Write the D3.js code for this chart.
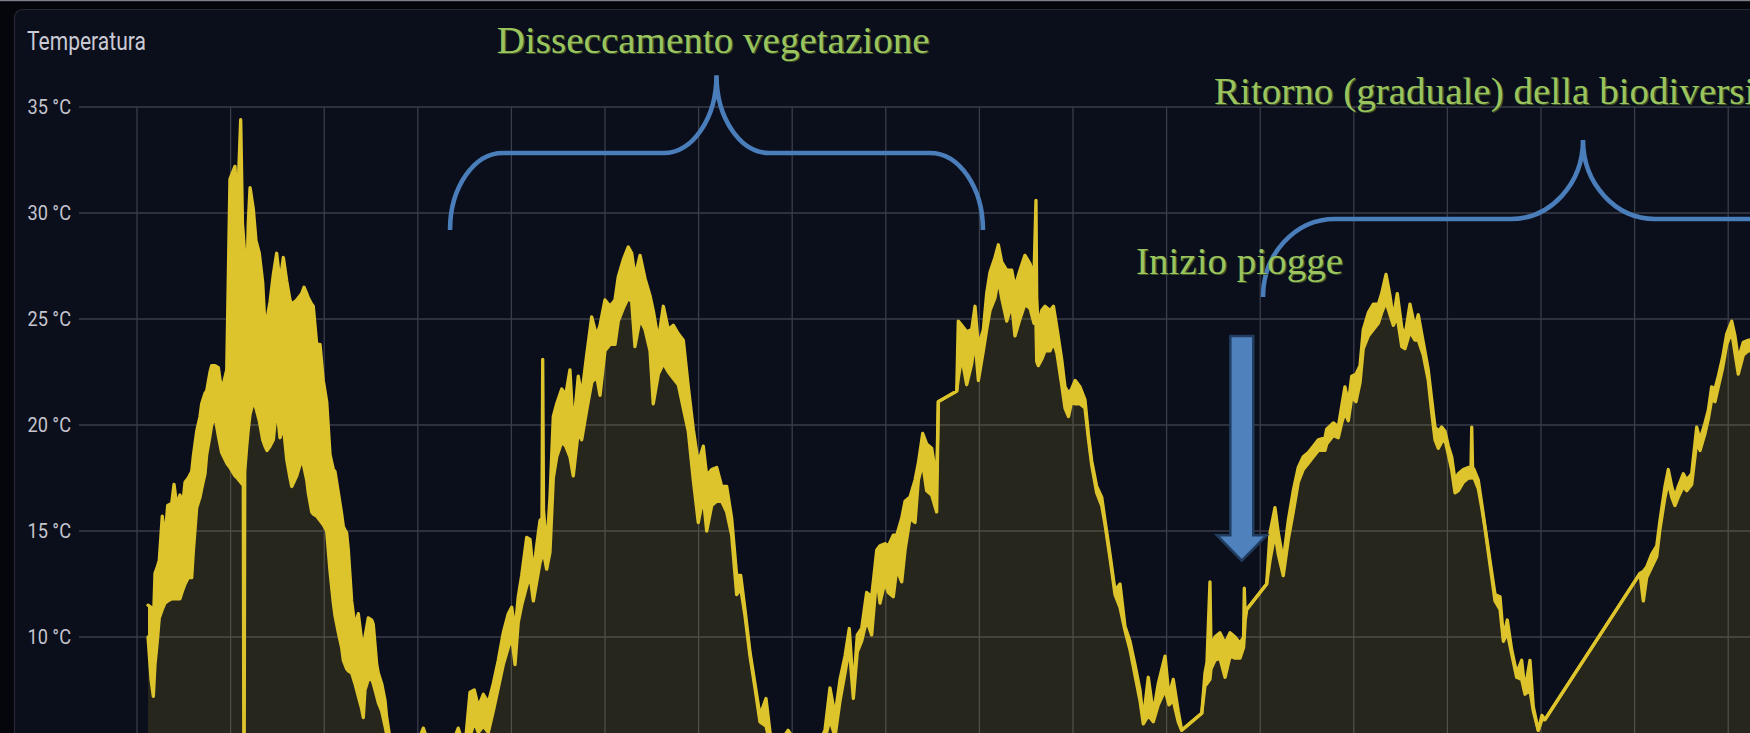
<!DOCTYPE html>
<html><head><meta charset="utf-8">
<script src="https://cdn.jsdelivr.net/npm/d3@7"></script>
<style>html,body{margin:0;padding:0;background:#04060c;overflow:hidden}</style>
</head><body>
<svg id="chart" width="1750" height="733"></svg>
<script>
// ---- data: [day, daily max °C, daily min °C] ----
const season1 = [
[100.6,11.5,10.0],[103.5,11.4,8.0],[105.7,10.5,7.2],[107.3,13.0,8.7],[109.5,13.3,9.8],[111.4,13.6,10.9],
[114.3,15.7,11.3],[116.9,14.6,11.6],[119.5,16.2,11.7],[123.4,16.3,11.8],[125.6,17.2,11.8],[128.2,16.2,11.8],
[131.3,16.7,11.8],[133.9,16.2,12.2],[136.2,17.3,12.5],[139.3,17.5,12.8],[142.6,17.8,12.8],[144.1,18.5,14.0],
[147.4,19.7,16.1],[150.6,20.4,16.6],[152.2,21.0,17.0],[155.4,21.5,17.7],[157.0,21.6,18.6],[160.2,22.5,19.5],
[161.8,22.8,20.0],[165.0,22.8,20.4],[168.2,22.7,19.5],[171.4,21.6,18.7],[176.3,22.6,18.2],[179.4,31.6,18.0],
[184.2,32.2,17.6],[186.4,30.1,17.5],[189.7,34.4,17.3],[191.4,29.5,17.2],[192.2,29.0,17.2],[192.9,28.5,0],
[193.6,28.0,17.8],[195.5,26.5,19.0],[197.0,29.5,19.8],[198.7,31.2,20.5],[201.8,30.2,21.1],[204.4,28.7,20.8],
[207.6,28.1,20.2],[210.9,26.7,19.3],[213.1,24.6,19.0],[215.0,25.0,18.8],[217.9,25.8,19.0],[221.1,27.1,19.3],
[224.3,28.1,20.9],[227.5,26.7,19.4],[230.7,27.9,20.0],[233.9,26.8,18.4],[237.1,25.9,17.5],[238.8,25.7,17.1],
[243.6,25.9,17.6],[248.4,26.2,18.4],[250.6,26.5,18.0],[253.2,26.2,17.4],[254.7,26.0,16.8],[258.0,25.7,15.9],
[259.5,25.6,15.8],[262.8,23.8,15.7],[266.0,23.8,15.5],[269.1,22.1,15.3],[272.4,21.1,15.0],[275.6,18.6,13.1],
[278.8,17.9,11.6],[280.4,17.8,11.0],[283.6,16.8,10.2],[286.8,15.8,9.5],[288.4,15.2,8.9],[291.6,14.9,8.5],
[293.2,14.1,8.4],[296.4,11.7,8.3],[299.6,10.5,7.8],[302.8,11.1,7.2],[306.1,9.8,6.6],[307.6,9.5,6.2],
[309.2,10.0,7.5],[312.4,10.9,8.0],[315.7,10.8,8.0],[317.2,10.6,7.8],[320.5,8.7,7.2],[322.0,8.3,6.9],
[325.3,7.8,6.5],[328.5,7.0,5.8],[330.1,6.2,5.4],[333.3,5.2,5.0],
[335.2,4.6,4.4],[342.9,4.5,4.3],[354.4,5.0,4.6],[362.1,5.3,4.9],[365.3,5.7,5.2],[368.8,5.2,4.8],
[376.5,4.8,4.5],[386.2,4.9,4.6],[395.8,5.3,4.9],[398.9,5.7,5.2],[402.5,5.1,4.8],[406.3,5.3,4.9]
];
const season2 = [
[410.2,7.4,5.3],[414.3,7.5,6.0],[418.2,6.7,5.5],[423.0,7.3,5.8],[427.8,6.9,5.5],[432.6,7.8,6.5],
[437.4,8.9,7.6],[442.2,10.2,8.7],[447.0,11.1,9.5],[450.3,11.4,10.0],[453.5,10.3,8.7],[456.6,11.9,10.7],
[459.9,12.9,11.5],[464.7,14.7,12.4],[467.9,14.6,12.9],[471.1,13.0,11.7],[474.3,14.3,12.6],[477.5,15.5,13.5],
[479.4,15.6,13.8],[480.1,23.1,14.0],[480.9,16.0,14.0],[483.9,14.1,13.2],[487.1,16.6,14.0],[490.3,20.4,17.5],
[493.6,21.0,18.5],[498.4,21.7,19.2],[502.2,21.4,19.0],[506.3,22.6,18.5],[509.5,19.8,17.6],[514.3,22.3,19.7],
[517.6,21.4,19.3],[522.4,23.3,20.7],[527.2,25.1,22.0],[532.0,24.2,22.3],[535.2,24.7,21.4],[540.0,25.9,23.5],
[544.8,25.6,23.8],[549.6,25.9,23.8],[552.8,27.0,24.9],[557.6,27.8,25.5],[562.4,28.4,26.0],[565.7,28.1,25.8],
[568.8,27.0,23.7],[573.7,28.0,25.0],[578.5,26.9,24.5],[583.3,26.1,23.5],[586.4,25.4,21.0],[591.3,24.0,22.4],
[596.1,25.6,22.9],[600.9,24.5,22.5],[605.7,24.7,22.2],[610.5,24.3,21.9],[615.3,24.0,20.8],[620.1,21.8,19.7],
[624.9,19.8,17.4],[629.7,18.2,15.4],[634.5,19.0,16.6],[637.8,17.6,15.0],[642.6,17.9,16.2],[647.4,18.0,16.4],
[652.2,17.1,16.4],[657.0,17.1,15.9],[661.8,15.6,14.8],[666.6,12.9,12.0],[670.5,12.9,12.3],[674.6,11.3,11.0],
[679.4,9.3,9.1],[684.2,7.8,7.6],[689.0,6.3,6.0],[694.8,7.1,5.8],[698.7,5.5,5.0],[701.5,5.2,4.8],
[708.3,5.0,4.7],[716.0,5.6,5.0],[722.7,5.1,4.8],[732.3,4.8,4.5],[741.9,5.0,4.7],[748.7,5.3,4.9]
];
const season3 = [
[751.5,5.6,5.2],[756.3,7.6,6.1],[761.2,6.3,5.3],[766.0,8.0,7.0],[770.8,9.1,8.3],[774.9,10.4,9.5],
[778.8,7.5,7.1],[782.6,10.1,9.3],[786.8,10.4,9.8],[791.6,12.1,10.8],[796.4,11.9,10.1],[801.3,14.1,12.9],
[804.4,14.3,11.6],[809.2,14.4,12.6],[812.4,14.3,12.1],[817.2,14.8,11.9],[820.5,14.8,13.2],[825.3,15.6,12.6],
[828.5,16.4,14.1],[833.3,16.6,15.6],[838.1,17.4,15.4],[841.3,18.2,17.4],[845.5,19.6,18.2],[849.3,19.1,16.9],
[854.1,18.9,16.7],[858.9,17.4,15.9],[860.5,21.1,21.1],[878.2,21.6,21.6],[879.7,24.9,22.2],[883.0,24.7,23.2],
[887.8,24.4,21.9],[892.6,24.5,22.9],[895.8,25.6,24.0],[899.0,23.7,22.1],[903.8,24.5,23.5],[907.0,26.2,24.5],
[910.2,27.2,25.4],[915.0,27.9,26.0],[918.2,28.5,26.9],[921.4,27.7,26.0],[926.3,27.3,24.9],[931.1,27.3,25.7],
[934.2,26.5,24.2],[939.0,27.3,25.0],[943.8,28.0,25.7],[948.7,27.6,25.5],[952.5,27.0,24.8],[954.4,30.6,24.8],
[955.1,26.0,23.0],[956.6,24.6,22.8],[959.9,25.4,23.1],[963.1,25.6,23.5],[967.9,25.4,23.5],[971.2,25.6,23.9],
[974.5,24.6,23.4],[979.1,23.1,21.9],[982.3,21.8,20.8],[985.7,21.5,20.4],[988.7,21.7,21.1],[992.1,22.1,21.0],
[996.7,21.8,21.0],[1001.5,21.2,20.8],[1004.7,19.6,19.4],[1008.0,18.3,18.1],[1012.8,17.1,16.8],[1017.6,16.6,16.2],
[1020.8,15.5,15.3],[1025.6,13.9,13.7],[1030.4,12.2,12.0],[1035.2,12.5,11.4],[1040.0,10.5,10.3],[1044.8,9.8,9.4],
[1049.6,8.7,8.2],[1054.4,7.5,7.0],[1057.6,6.1,5.9],[1062.4,8.1,6.3],[1067.2,6.4,6.0],[1072.0,7.8,6.8],
[1078.5,9.1,7.5],[1082.3,7.2,6.8],[1086.4,8.0,7.0],[1091.2,6.5,6.0],[1094.5,5.6,5.6]
];
const season4 = [
[1113.8,6.4,6.4],[1116.9,8.3,7.7],[1118.8,8.8,7.8],[1121.7,12.6,8.0],[1122.7,9.5,8.5],[1126.5,10.0,8.9],
[1131.3,10.2,9.0],[1136.2,9.7,8.1],[1141.0,10.2,9.1],[1145.8,10.0,9.0],[1150.6,9.7,9.0],[1154.0,10.0,9.5],
[1154.7,12.3,10.0],[1155.6,11.0,10.8],[1157.0,11.3,11.3],[1176.2,12.5,12.5],[1179.4,14.9,13.6],[1184.2,16.1,14.9],
[1187.4,14.9,13.9],[1192.2,13.6,12.9],[1197.0,15.5,14.6],[1201.8,16.9,15.9],[1206.6,18.0,17.3],[1211.4,18.5,17.9],
[1216.3,18.7,18.2],[1221.1,19.0,18.5],[1225.9,19.3,18.8],[1232.3,19.4,18.8],[1233.9,19.8,19.1],[1240.3,20.1,19.5],
[1245.1,19.9,19.4],[1248.4,20.9,20.1],[1251.5,21.8,20.6],[1254.7,21.0,20.2],[1258.0,22.3,21.3],[1262.1,22.4,21.1],
[1266.0,22.8,22.0],[1269.1,24.5,23.6],[1274.0,25.3,24.2],[1278.8,25.7,24.5],[1283.6,25.7,24.8],[1286.8,26.2,25.3],
[1291.0,27.1,25.8],[1294.8,26.1,25.2],[1298.0,25.0,24.7],[1301.8,26.2,25.1],[1306.1,24.6,23.7],[1309.2,24.2,23.6],
[1314.0,25.7,24.4],[1318.8,24.6,24.0],[1322.0,25.2,24.0],[1326.8,23.9,23.3],[1331.6,22.6,22.1],[1334.9,21.2,20.6],
[1338.1,19.9,19.3],[1341.3,19.7,18.9],[1344.5,19.9,19.2],[1347.7,19.7,19.3],[1350.9,19.0,18.6],[1354.1,18.5,17.9],
[1357.3,17.4,16.8],[1360.5,17.7,16.9],[1365.3,17.9,17.3],[1370.1,18.0,17.5],[1372.7,18.0,17.5],[1373.4,19.9,17.6],
[1374.2,18.0,17.5],[1375.6,17.9,17.5],[1379.7,17.4,17.0],[1383.0,16.3,16.1],[1386.2,15.2,15.1],[1391.0,13.6,13.4],
[1395.8,12.0,11.7],[1400.6,11.9,11.3],[1403.8,10.0,9.8],[1407.6,10.8,10.2],[1411.8,9.4,9.2],[1416.6,8.3,8.1],
[1421.4,8.9,8.0],[1424.6,7.5,7.3],[1429.4,8.9,7.5],[1432.6,6.7,6.5],[1437.4,5.6,5.6],[1440.9,6.3,6.1],
[1443.8,6.1,6.1]
];
const season5 = [
[1535.2,13.0,13.0],[1538.4,13.1,11.7],[1541.6,13.3,12.8],[1546.4,13.9,13.3],[1551.3,14.3,13.8],[1554.4,15.5,15.1],
[1559.2,17.1,16.6],[1562.4,17.9,17.3],[1565.7,17.1,16.6],[1568.8,16.6,16.2],[1572.0,17.1,16.6],[1576.8,17.7,17.1],
[1580.1,17.4,16.9],[1584.9,17.7,17.2],[1589.7,19.9,19.2],[1592.9,19.3,18.8],[1597.7,20.1,19.6],[1600.9,20.7,20.3],
[1604.1,21.8,21.2],[1607.3,21.7,21.1],[1610.5,22.3,21.8],[1614.7,23.2,22.7],[1618.6,24.3,23.8],[1623.4,24.9,24.4],
[1626.5,24.2,23.4],[1629.7,23.1,22.4],[1634.5,23.9,23.3],[1639.3,24.0,23.5],[1643.8,24.0,23.5]
];
const yTicks = [5, 10, 15, 20, 25, 30, 35];
const gridDays = [90,180,270,360,450,540,630,720,810,900,990,1080,1170,1260,1350,1440,1530,1620];
const title = "Temperatura";
const notes = [
  {text:"Disseccamento vegetazione", day:435.9, temp:37.55},
  {text:"Ritorno (graduale) della biodiversità", day:1125.6, temp:35.14},
  {text:"Inizio piogge", day:1050.5, temp:27.12}
];
// braces: day positions of end / corner / tip, temperature levels of end / bar / tip
const braces = [
  {d0:391, d1:442, dTip:647.2, t0:29.2, tBar:32.83, tTip:36.5},
  {d0:1172.7, d1:1242, dTip:1480.4, t0:26.04, tBar:29.72, tTip:33.44}
];
const arrow = {day:1152.3, top:24.2, base:14.8, tip:13.6, halfShaft:11.5, halfHead:25};

// ---- drawing ----
const W = 1750, H = 733;
const svg = d3.select("#chart");
const x = d3.scaleLinear().domain([0, 1620]).range([43.4, 1728.2]);
const y = d3.scaleLinear().domain([5, 35]).range([743, 107]);
const data = [].concat(season1, season2, season3, season4, season5);

svg.append("rect").attr("width", W).attr("height", H).attr("fill", "#04060c");
svg.append("rect").attr("x", 0).attr("y", 0).attr("width", W).attr("height", 1.2).attr("fill", "#7d808a");
svg.append("rect").attr("x", 14.5).attr("y", 9.5).attr("width", 1900).attr("height", 900)
   .attr("rx", 8).attr("fill", "#0b0e1b").attr("stroke", "#272a36").attr("stroke-width", 1.2);

const defs = svg.append("defs");
defs.append("clipPath").attr("id", "plot").append("rect")
   .attr("x", 79).attr("y", 60).attr("width", W).attr("height", H);

const grid = svg.append("g").attr("stroke", "#3a3d4a").attr("stroke-width", 1.3);
grid.selectAll(".h").data(yTicks).join("line")
   .attr("x1", 79).attr("x2", W).attr("y1", d => y(d)).attr("y2", d => y(d));
grid.selectAll(".v").data(gridDays).join("line")
   .attr("x1", d => x(d)).attr("x2", d => x(d)).attr("y1", y(35)).attr("y2", y(5));

const plot = svg.append("g").attr("clip-path", "url(#plot)");
plot.append("path").datum(data)
   .attr("fill", "rgb(226,200,40)").attr("fill-opacity", 0.13)
   .attr("d", d3.area().x(d => x(d[0])).y0(y(5)).y1(d => y(d[1])));
plot.append("path").datum(data)
   .attr("fill", "#dec42c")
   .attr("d", d3.area().x(d => x(d[0])).y0(d => y(d[2])).y1(d => y(d[1])));
[1, 2].forEach(k => {
  plot.append("path").datum(data)
     .attr("fill", "none").attr("stroke", "#dec42c").attr("stroke-width", 3.3)
     .attr("stroke-linejoin", "round").attr("stroke-linecap", "round")
     .attr("d", d3.line().x(d => x(d[0])).y(d => y(d[k])));
});

// axis labels
const labG = svg.append("g").attr("font-family", "Roboto, 'Noto Sans', sans-serif")
   .attr("font-size", 20).attr("fill", "#c4c5ce");
yTicks.filter(t => y(t) < H - 12).forEach(t => {
  labG.append("text").attr("text-anchor", "end")
     .attr("transform", `translate(71,${y(t) + 7}) scale(0.91,1)`).text(`${t} °C`);
});
const tt = svg.append("text").attr("font-family", "Roboto, 'Noto Sans', sans-serif")
   .attr("font-size", 26).attr("fill", "#c9cad3").text(title);
const tw = tt.node().getComputedTextLength();
tt.attr("transform", `translate(27,50) scale(${119 / tw},1)`);

// braces
const bg = svg.append("g").attr("fill", "none").attr("stroke", "#4a7ebb").attr("stroke-width", 4.6);
braces.forEach(b => {
  const k = 0.552;
  const X0 = x(b.d0), X1 = x(b.d1), XT = x(b.dTip);
  const Y0 = y(b.t0), YB = y(b.tBar), YT = y(b.tTip);
  const rx = X1 - X0, ry = Y0 - YB;      // end curve radii
  const rtx = rx, rty = YB - YT;         // tip curve radii
  const Xa = XT - rtx, Xb = XT + rtx;
  const XR = 2 * XT - X0, XR1 = XR - rx;
  const p = d3.path();
  p.moveTo(X0, Y0);
  p.bezierCurveTo(X0, Y0 - k * ry, X1 - k * rx, YB, X1, YB);
  p.lineTo(Xa, YB);
  p.bezierCurveTo(Xa + k * rtx, YB, XT, YB - (1 - k) * rty, XT, YT);
  p.bezierCurveTo(XT, YB - (1 - k) * rty, Xb - k * rtx, YB, Xb, YB);
  p.lineTo(XR1, YB);
  p.bezierCurveTo(XR1 + k * rx, YB, XR, Y0 - k * ry, XR, Y0);
  bg.append("path").attr("d", p.toString());
});

// arrow
{
  const cx = x(arrow.day);
  const pts = [
    [cx - arrow.halfShaft, y(arrow.top)], [cx + arrow.halfShaft, y(arrow.top)],
    [cx + arrow.halfShaft, y(arrow.base)], [cx + arrow.halfHead, y(arrow.base)],
    [cx, y(arrow.tip)], [cx - arrow.halfHead, y(arrow.base)],
    [cx - arrow.halfShaft, y(arrow.base)]
  ];
  svg.append("polygon").attr("points", pts.map(p => p.join(",")).join(" "))
     .attr("fill", "#4f81bd").attr("stroke", "#213c5e").attr("stroke-width", 2.5)
     .attr("stroke-linejoin", "miter");
}

// annotations
const ng = svg.append("g").attr("font-family", "'Liberation Serif', 'DejaVu Serif', serif").attr("font-size", 38);
const probe = ng.append("text").text(notes[0].text);
const sx = 433 / probe.node().getComputedTextLength();
probe.remove();
notes.forEach(n => {
  const tx = x(n.day), ty = y(n.temp);
  ng.append("text").attr("transform", `translate(${tx + 1.3},${ty + 1.3}) scale(${sx},1)`)
    .attr("fill", "#3f5a28").text(n.text);
  ng.append("text").attr("transform", `translate(${tx},${ty}) scale(${sx},1)`)
    .attr("fill", "#9cc45e").text(n.text);
});
</script>
</body></html>
